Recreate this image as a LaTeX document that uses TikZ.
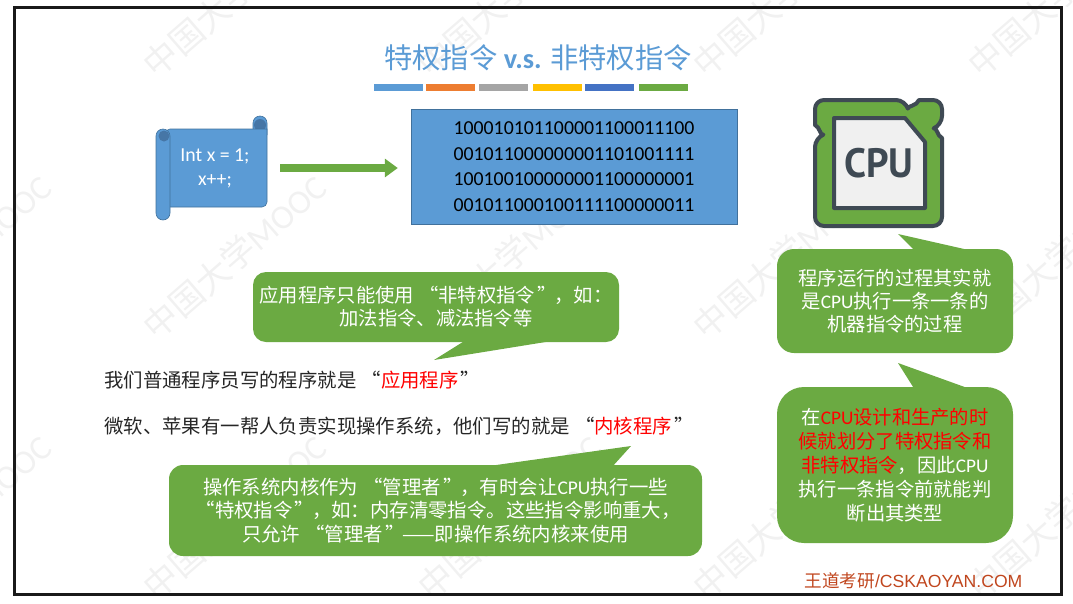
\documentclass[tikz,border=0pt]{standalone}
\usepackage{fontspec}
\setmainfont{Carlito}
\newfontfamily\cjkfont{Noto Sans CJK SC}
\newfontfamily\footfont{Liberation Sans}
\newfontfamily\chipfont{PT Sans}
\usetikzlibrary{arrows.meta}
\definecolor{slideblue}{HTML}{5B9BD5}
\definecolor{deepblue}{HTML}{41719C}
\definecolor{rollblue}{HTML}{4676A6}
\definecolor{slidegreen}{HTML}{6BAA42}
\definecolor{barorange}{HTML}{ED7D31}
\definecolor{bargray}{HTML}{A5A5A5}
\definecolor{bargold}{HTML}{FFC000}
\definecolor{barblue}{HTML}{4472C4}
\definecolor{chipedge}{HTML}{3F4A54}
\definecolor{footred}{HTML}{C0461E}
\definecolor{markgray}{HTML}{F1F1F1}
\newcommand{\lat}[1]{{\rmfamily #1}}
\newcommand{\hot}[1]{{\color{red}#1}}
\newcommand{\qo}{\makebox[1.27em][r]{“}}
\newcommand{\qc}{\makebox[1em][l]{\hspace{.12em}”}}
\tikzset{
  bubble/.style={fill=slidegreen, text=white, align=center, inner sep=0pt,
    font=\cjkfont\fontsize{19.3}{23}\selectfont},
  plainline/.style={anchor=west, inner sep=0pt, text=black!85,
    font=\cjkfont\fontsize{19.4}{23}\selectfont},
  roll/.style={fill=slideblue, draw=deepblue, line width=0.6pt}
}

\begin{document}
\begin{tikzpicture}[x = 1pt, y = -1pt]
	    \useasboundingbox (0,0) rectangle (1073,603);

	    % watermark behind everything
	    \foreach \y in {53,315,575}
	    {\foreach \x in {-115,160,435,710,985}
	      \node[rotate=41, anchor=west, text=markgray, inner sep=0pt,
	        font=\cjkfont\fontsize{34}{34}\selectfont]
	        (mark\x\y) at (\x-12,\y+17) {中国大学\lat{MOOC}} ;
	    }

	    % slide border
	    \draw[line width=3pt, color=black!90] (14,7) rectangle (1061,594) ;

	    % title and colour bars
	    \node[text=slideblue, inner sep=0pt, font=\cjkfont\fontsize{28.3}{30}\selectfont]
	      (title) at (538,58) {特权指令 \lat{\bfseries v.s.} 非特权指令} ;
	    \foreach \x/\barcolor in {374/slideblue,426/barorange,479/bargray,533/bargold,585/barblue,639/slidegreen}
	      \fill[color=\barcolor] (\x,84) rectangle +(48.5,6.5) ;

	    % scroll with the source code
	    \draw[roll, rounded corners=7pt] (253,135) -- (253,116) -- (267,116) -- (267,135) ;
	    \fill[color=rollblue] (260,125) circle (6pt) ;
	    \draw[roll] (165,129) -- (267,129)
	      [rounded corners=5pt] -- (267,207) -- (165,207) -- cycle ;
	    \draw[roll, rounded corners=7pt] (156,129) -- (170,129) -- (170,220) -- (156,220) -- cycle ;
	    \fill[color=rollblue] (164,136) circle (5.5pt) ;
	    \node[text=white, align=center, minimum width=106pt, minimum height=104pt, inner sep=0pt,
	      font=\fontsize{19.8}{24}\selectfont] (codeScroll) at (215,168) {Int x = 1;\\x++;} ;

	    % box with the machine code
	    \node[fill=slideblue, draw=deepblue, minimum width=326pt, minimum height=115pt,
	      align=center, inner sep=0pt, font=\fontsize{19.8}{25.5}\selectfont]
	      (codeBox) at (574,166.5)
	      {100010101100001100011100\\001011000000001101001111\\100100100000001100000001\\001011000100111100000011} ;
	    \draw[line width=8.5pt, color=slidegreen, -{Triangle[length=13pt,width=18pt]},
	      shorten <=12pt, shorten >=13pt] (codeScroll.east) -- (codeBox.west |- codeScroll.east) ;

	    % cpu icon
	    \draw[draw=chipedge, line width=4pt, fill=slidegreen, line join=round]
	      (880,226) [rounded corners=9pt] -- (815,226) -- (815,138)
	      [sharp corners] .. controls (820,136) and (820,127) .. (815,125)
	      [rounded corners=9pt] -- (815,100) -- (905,100)
	      [sharp corners] .. controls (907,106) and (917,106) .. (919,100)
	      [rounded corners=9pt] -- (942,100) -- (942,125)
	      [sharp corners] .. controls (937,127) and (937,136) .. (942,138)
	      [rounded corners=9pt] -- (942,226) -- cycle ;
	    \draw[draw=chipedge, line width=4pt, fill=black!6, line join=round]
	      (834,118) -- (905,118) -- (925,142) -- (925,208) -- (834,208) -- cycle ;
	    \node[text=chipedge, inner sep=0pt, xscale=0.96, font=\chipfont\bfseries\fontsize{41}{41}\selectfont]
	      (chipLabel) at (879,163) {CPU} ;

	    % green speech bubbles, the tail first
	    \fill[color=slidegreen] (466,340) -- (434,360) -- (558,340) -- cycle ;
	    \node[bubble, rounded corners=13pt, minimum width=366pt, minimum height=70pt]
	      (appNote) at (436,307) {应用程序只能使用\qo 非特权指令\qc ，如：\\加法指令、减法指令等} ;

	    \node[plainline] (appLine) at (104,380) {我们普通程序员写的程序就是\qo\hot{应用程序}\qc} ;
	    \node[plainline] (kernelLine) at (104,426)
	      {微软、苹果有一帮人负责实现操作系统，他们写的就是\qo\hot{内核程序}\qc} ;

	    \fill[color=slidegreen] (482,467) -- (631,446) -- (612,467) -- cycle ;
	    \node[bubble, rounded corners=14pt, minimum width=533pt, minimum height=91pt,
	      font=\cjkfont\fontsize{19.4}{23.5}\selectfont]
	      (kernelNote) at (435.5,510.5)
	      {操作系统内核作为\qo 管理者\qc ，有时会让\lat{CPU}执行一些\\\qo 特权指令\qc ，如：内存清零指令。这些指令影响重大，\\只允许\qo 管理者\qc ——即操作系统内核来使用} ;

	    \fill[color=slidegreen] (915,251) -- (898,234) -- (973,251) -- cycle ;
	    \node[bubble, rounded corners=17pt, minimum width=236pt, minimum height=104pt]
	      (runNote) at (895,301) {程序运行的过程其实就\\是\lat{CPU}执行一条一条的\\机器指令的过程} ;

	    \fill[color=slidegreen] (915,390) -- (898,363) -- (973,390) -- cycle ;
	    \node[bubble, rounded corners=27pt, minimum width=236pt, minimum height=156pt,
	      font=\cjkfont\fontsize{19.3}{24}\selectfont]
	      (typeNote) at (895,465)
	      {在\hot{\lat{CPU}设计和生产的时}\\\hot{候就划分了特权指令和}\\\hot{非特权指令}，因此\lat{CPU}\\执行一条指令前就能判\\断出其类型} ;

	    % footer
	    \node[text=footred, inner sep=0pt, font=\footfont\fontsize{17.6}{20}\selectfont]
	      (footer) at (913.5,581) {{\cjkfont 王道考研}/CSKAOYAN.COM} ;
	  \end{tikzpicture}
\end{document}
